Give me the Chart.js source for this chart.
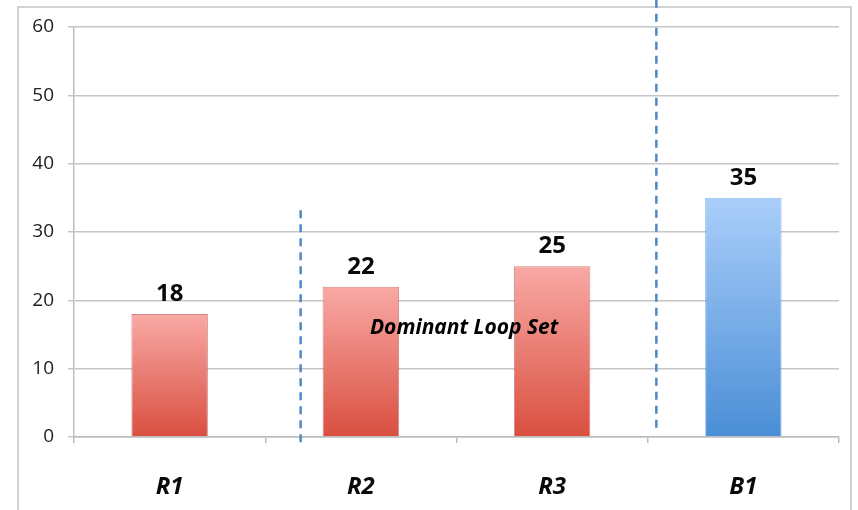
<!DOCTYPE html>
<html>
<head>
<meta charset="utf-8">
<script src="https://cdn.jsdelivr.net/npm/chart.js@4/dist/chart.umd.min.js"></script>
<style>
  html, body { margin: 0; padding: 0; background: #fff; }
  #wrap { width: 858px; height: 510px; position: relative; }
</style>
</head>
<body>
<div id="wrap"><canvas id="c" width="858" height="510"></canvas></div>
<script>
// Loop categories and their counts
const categories = ['R1', 'R2', 'R3', 'B1'];
const values = [18, 22, 25, 35];
const loopKinds = ['reinforcing', 'reinforcing', 'reinforcing', 'balancing'];
const yTicks = [0, 10, 20, 30, 40, 50, 60];

// Dashed separators: x position in category units, y extent in value units
const dividerX = [0.685, 2.545];
const dividerFrom = [-0.8, 1.0];
const dividerTo = [33.2, 64];

const noteText = 'Dominant Loop Set';
const noteX = 1.54;
const noteY = 16;

const FONT = '"Open Sans", Lato, sans-serif';

function barGradient(ctx, kind) {
  const chart = ctx.chart;
  const area = chart.chartArea;
  if (!area) return kind === 'balancing' ? '#6fa6e6' : '#e87a72';
  const y = chart.scales.y;
  const top = y.getPixelForValue(values[ctx.dataIndex]);
  const bottom = y.getPixelForValue(0);
  const g = chart.ctx.createLinearGradient(0, top, 0, bottom);
  if (kind === 'balancing') {
    g.addColorStop(0, '#aacefa');
    g.addColorStop(1, '#4a8ed6');
  } else {
    g.addColorStop(0, '#f9a9a5');
    g.addColorStop(1, '#d94f40');
  }
  return g;
}

const frame = {
  id: 'frame',
  beforeDraw(chart) {
    const c = chart.ctx;
    c.save();
    c.strokeStyle = '#d2d2d2';
    c.lineWidth = 2;
    c.strokeRect(18, 7, 833, 520);
    c.restore();
  }
};

const extras = {
  id: 'extras',
  afterDatasetsDraw(chart) {
    const c = chart.ctx;
    const xs = chart.scales.x, ys = chart.scales.y;
    c.save();
    // value labels
    c.font = 'bold 24px ' + FONT;
    c.fillStyle = '#0a0a0a';
    c.textAlign = 'center';
    c.textBaseline = 'middle';
    const meta = chart.getDatasetMeta(0);
    meta.data.forEach((bar, i) => {
      c.fillText(String(values[i]), bar.x, bar.y - 20);
    });
    // dashed separators
    c.strokeStyle = '#4f88c6';
    c.lineWidth = 2.5;
    c.setLineDash([8, 6]);
    const catW = xs.getPixelForValue(1) - xs.getPixelForValue(0);
    dividerX.forEach((v, i) => {
      const px = xs.getPixelForValue(0) + v * catW;
      c.beginPath();
      c.moveTo(px, ys.getPixelForValue(dividerTo[i]));
      c.lineTo(px, ys.getPixelForValue(dividerFrom[i]));
      c.stroke();
    });
    c.setLineDash([]);
    // note
    c.font = 'italic bold 21px ' + FONT;
    c.fillStyle = '#000';
    c.fillText(noteText, xs.getPixelForValue(0) + noteX * catW, ys.getPixelForValue(noteY));
    c.restore();
  }
};

new Chart(document.getElementById('c'), {
  type: 'bar',
  data: {
    labels: categories,
    datasets: [{
      data: values,
      backgroundColor: ctx => barGradient(ctx, loopKinds[ctx.dataIndex]),
      borderColor: ctx => loopKinds[ctx.dataIndex] === 'balancing' ? 'rgba(74,142,214,0.6)' : 'rgba(192,80,77,0.7)',
      borderWidth: 1,
      categoryPercentage: 0.8,
      barPercentage: 0.5
    }]
  },
  options: {
    responsive: false,
    animation: false,
    layout: { padding: { left: 0, top: 27, right: 19, bottom: 0 } },
    plugins: { legend: { display: false }, tooltip: { enabled: false } },
    scales: {
      x: {
        offset: true,
        afterFit(s) { s.height = 73; },
        grid: { display: true, offset: true, drawOnChartArea: false, drawTicks: true, tickLength: 6, color: '#bdbdbd', lineWidth: 1.5 },
        border: { display: true, color: '#bdbdbd', width: 1.5 },
        ticks: { color: '#0a0a0a', padding: 30, font: { family: FONT, size: 24, style: 'italic', weight: 'bold' } }
      },
      y: {
        min: 0, max: 60,
        afterFit(s) { s.width = 74; },
        afterBuildTicks(s) { s.ticks = yTicks.map(v => ({ value: v })); },
        grid: { color: '#c6c6c6', lineWidth: 1.5, drawTicks: true, tickLength: 6 },
        border: { display: true, color: '#bdbdbd', width: 1.5 },
        ticks: { color: '#222', padding: 14, font: { family: FONT, size: 19 } }
      }
    }
  },
  plugins: [frame, extras]
});
</script>
</body>
</html>
